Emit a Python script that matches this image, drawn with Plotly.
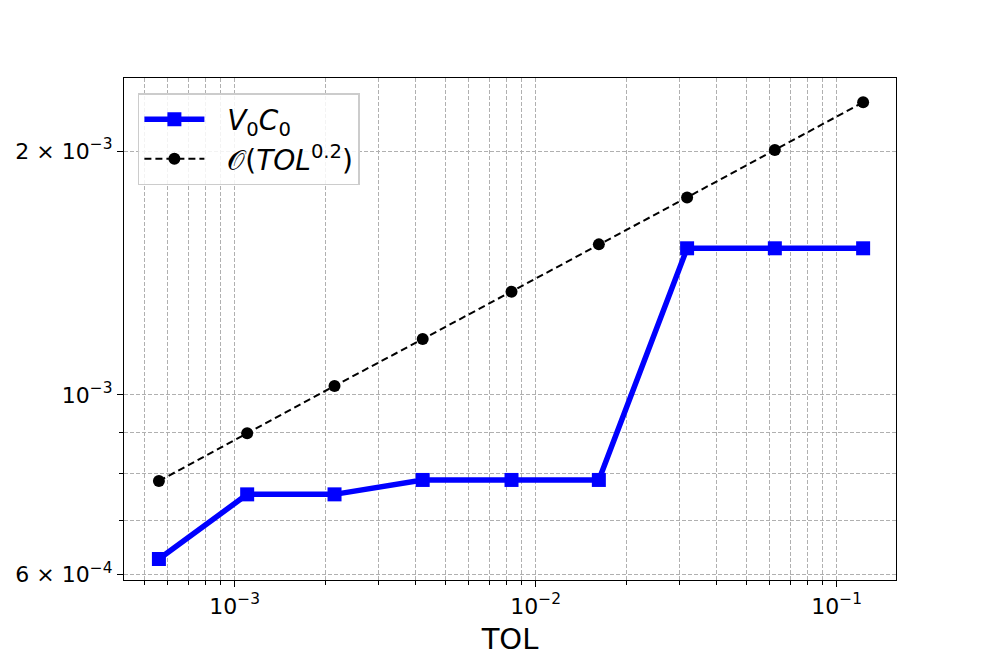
import plotly.graph_objects as go

# values (log-log plot)
tol = [5.60e-4, 1.100e-3, 2.146e-3, 4.212e-3, 8.31e-3, 1.621e-2, 3.184e-2, 6.23e-2, 0.1224]
v0c0 = [6.275e-4, 7.54e-4, 7.54e-4, 7.855e-4, 7.855e-4, 7.855e-4, 1.517e-3, 1.517e-3, 1.517e-3]
rate = [7.83e-4, 8.97e-4, 1.026e-3, 1.172e-3, 1.341e-3, 1.534e-3, 1.753e-3, 2.006e-3, 2.297e-3]

x_major = [1e-3, 1e-2, 1e-1]
x_major_text = ["10<sup>−3</sup>", "10<sup>−2</sup>", "10<sup>−1</sup>"]
x_minor = [5e-4, 6e-4, 7e-4, 8e-4, 9e-4,
           2e-3, 3e-3, 4e-3, 5e-3, 6e-3, 7e-3, 8e-3, 9e-3,
           2e-2, 3e-2, 4e-2, 5e-2, 6e-2, 7e-2, 8e-2, 9e-2]
y_major = [6e-4, 1e-3, 2e-3]
y_major_text = ["6 × 10<sup>−4</sup>", "10<sup>−3</sup>", "2 × 10<sup>−3</sup>"]
y_minor = [7e-4, 8e-4, 9e-4]

grid_col = "#b0b0b0"
grid_dash = "4px,2px"

fig = go.Figure()
fig.add_trace(go.Scatter(
    x=tol, y=v0c0, mode="lines+markers",
    name="&nbsp;&nbsp;<i>V</i><sub>0</sub><i>C</i><sub>0</sub>",
    line=dict(color="#0000ff", width=5.5),
    marker=dict(symbol="square", size=14, color="#0000ff"),
))
fig.add_trace(go.Scatter(
    x=tol, y=rate, mode="lines+markers",
    name="&nbsp;&nbsp;𝒪(<i>TOL</i><sup>0.2</sup>)",
    line=dict(color="black", width=2, dash="7px,4px"),
    marker=dict(symbol="circle", size=12, color="black"),
))

axis_common = dict(
    type="log", showline=True, linecolor="black", linewidth=1.3, mirror=True,
    ticks="outside", ticklen=6, tickwidth=1, tickcolor="black",
    showgrid=True, gridcolor=grid_col, griddash=grid_dash, gridwidth=1,
    zeroline=False, tickfont=dict(size=22, color="black"), automargin=False,
)

fig.update_xaxes(
    **axis_common,
    range=[-3.3678, -0.8030],
    tickmode="array", tickvals=x_major, ticktext=x_major_text,
    minor=dict(tickmode="array", tickvals=x_minor, ticks="outside", ticklen=3.5,
               tickcolor="black", showgrid=True, gridcolor=grid_col, griddash=grid_dash),
    title=dict(text="TOL", font=dict(size=29, color="black"), standoff=19),
)
fig.update_yaxes(
    **axis_common,
    range=[-3.2283, -2.6089],
    tickmode="array", tickvals=y_major, ticktext=y_major_text,
    minor=dict(tickmode="array", tickvals=y_minor, ticks="outside", ticklen=3.5,
               tickcolor="black", showgrid=True, gridcolor=grid_col, griddash=grid_dash),
)

# the page body adds an 8px offset, so the figure is laid out 16px smaller
fig.update_layout(
    width=980, height=648,
    margin=dict(l=116, r=92, t=70, b=76),
    paper_bgcolor="white", plot_bgcolor="white",
    font=dict(family="DejaVu Sans", color="black"),
    legend=dict(
        x=0.018, y=0.97, xanchor="left", yanchor="top",
        bgcolor="rgba(255,255,255,0.85)", bordercolor="#cccccc", borderwidth=1.5,
        font=dict(size=28), itemwidth=60,
    ),
    showlegend=True,
)

fig.write_html("out.html")
